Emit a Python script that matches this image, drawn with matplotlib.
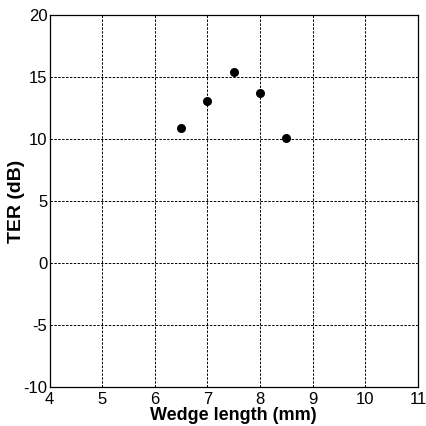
import matplotlib.pyplot as plt

plt.rcParams['font.family'] = ['Liberation Sans', 'DejaVu Sans']
plt.rcParams['axes.unicode_minus'] = False

wedge_length = [6.5, 7.0, 7.5, 8.0, 8.5]
ter_db = [10.9, 13.1, 15.4, 13.7, 10.1]

x_ticks = [4, 5, 6, 7, 8, 9, 10, 11]
y_ticks = [-10, -5, 0, 5, 10, 15, 20]

fig = plt.figure(figsize=(4.26, 4.26), dpi=100)
ax = fig.add_axes([49.5 / 426, 1 - 387 / 426, (418 - 49.5) / 426, (387 - 15) / 426])

ax.scatter(wedge_length, ter_db, s=30, color='black', zorder=3)

ax.set_xlim(4, 11)
ax.set_ylim(-10, 20)
ax.set_xticks(x_ticks)
ax.set_yticks(y_ticks)
ax.tick_params(length=0, labelsize=12)
ax.tick_params(axis='x', pad=3.5)
ax.tick_params(axis='y', pad=1.5)
ax.grid(True, color='black', linestyle=(0, (2.5, 1.5)), linewidth=0.7)

for s in ax.spines.values():
    s.set_linewidth(0.9)

ax.set_xlabel('Wedge length (mm)', fontsize=13, fontweight='bold', labelpad=0)
ax.set_ylabel('TER (dB)', fontsize=14, fontweight='bold', labelpad=-1.5)

fig.savefig('out.png', dpi=100)
